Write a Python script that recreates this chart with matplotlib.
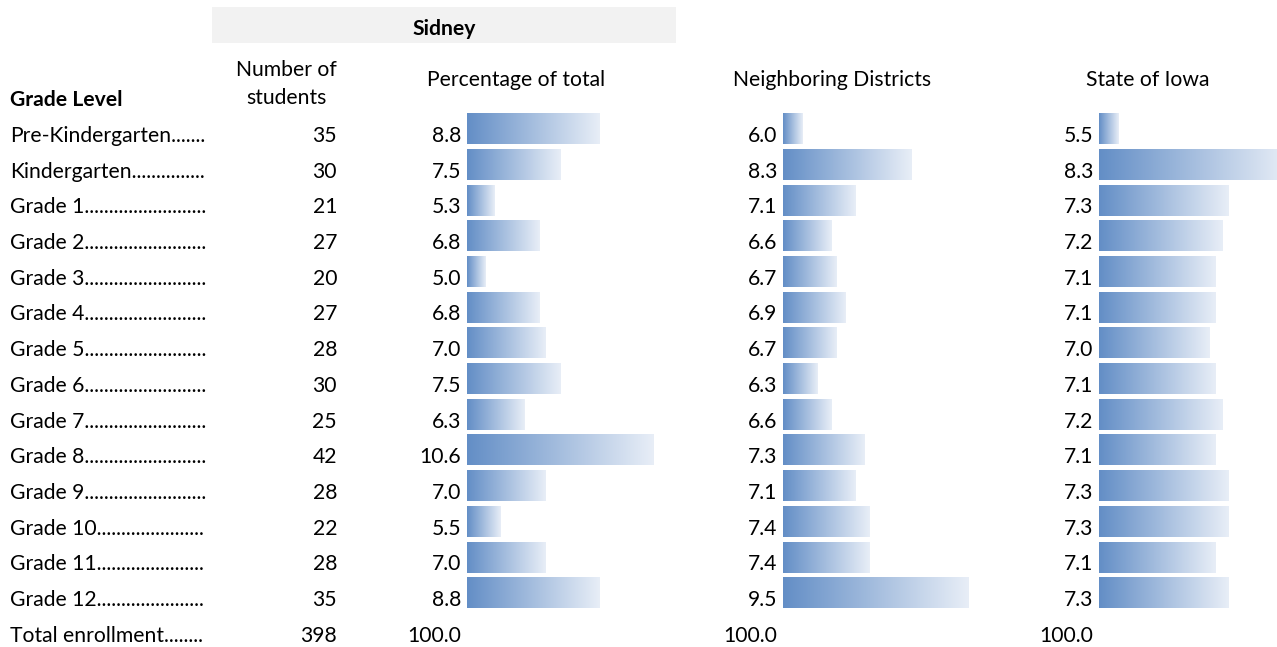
import numpy as np
import matplotlib
matplotlib.use("Agg")
import matplotlib.pyplot as plt

grades = ["Pre-Kindergarten", "Kindergarten", "Grade 1", "Grade 2", "Grade 3", "Grade 4",
          "Grade 5", "Grade 6", "Grade 7", "Grade 8", "Grade 9", "Grade 10", "Grade 11", "Grade 12"]
students = [35, 30, 21, 27, 20, 27, 28, 30, 25, 42, 28, 22, 28, 35]
sidney_pct = [8.8, 7.5, 5.3, 6.8, 5.0, 6.8, 7.0, 7.5, 6.3, 10.6, 7.0, 5.5, 7.0, 8.8]
neighbor_pct = [6.0, 8.3, 7.1, 6.6, 6.7, 6.9, 6.7, 6.3, 6.6, 7.3, 7.1, 7.4, 7.4, 9.5]
iowa_pct = [5.5, 8.3, 7.3, 7.2, 7.1, 7.1, 7.0, 7.1, 7.2, 7.1, 7.3, 7.3, 7.1, 7.3]
total_label = "Total enrollment"
total_students = 398
total_pct = ["100.0", "100.0", "100.0"]
header_city = "Sidney"
col_headers = ["Number of\nstudents", "Percentage of total", "Neighboring Districts", "State of Iowa"]

W, H = 1277, 647
FONT = "Lato"
FS = 15.2
plt.rcParams['font.family'] = [FONT, 'DejaVu Sans']

fig = plt.figure(figsize=(W / 100, H / 100), dpi=100)

# text layer in pixel coordinates
tax = fig.add_axes([0, 0, 1, 1])
tax.set_xlim(0, W)
tax.set_ylim(H, 0)
tax.axis('off')

# row geometry
row0, pitch = 129.0, 35.7
def row_px(i):
    return row0 + pitch * i

# header
tax.add_patch(plt.Rectangle((212, 7), 464, 36, color="#F2F2F2", lw=0, zorder=0))
tax.text(444, 29, header_city, ha='center', va='center', fontsize=FS, fontweight='bold')
tax.text(286, 84, col_headers[0], ha='center', va='center', fontsize=FS, linespacing=1.55)
tax.text(516, 80, col_headers[1], ha='center', va='center', fontsize=FS)
tax.text(832, 80, col_headers[2], ha='center', va='center', fontsize=FS)
tax.text(1148, 80, col_headers[3], ha='center', va='center', fontsize=FS)
tax.text(10, 100, "Grade Level", ha='left', va='center', fontsize=FS, fontweight='bold')

fig.canvas.draw()
renderer = fig.canvas.get_renderer()

def dotted(label, target_px):
    s = label
    while True:
        t = tax.text(10, 0, s + ".", fontsize=FS)
        w = t.get_window_extent(renderer).width
        t.remove()
        if 10 + w > target_px:
            return s
        s += "."

toff = 7
for i, g in enumerate(grades):
    y = row_px(i) + toff
    tax.text(10, y, dotted(g, 207), ha='left', va='center', fontsize=FS)
    tax.text(337, y, f"{students[i]}", ha='right', va='center', fontsize=FS)
    tax.text(461, y, f"{sidney_pct[i]:.1f}", ha='right', va='center', fontsize=FS)
    tax.text(777, y, f"{neighbor_pct[i]:.1f}", ha='right', va='center', fontsize=FS)
    tax.text(1093, y, f"{iowa_pct[i]:.1f}", ha='right', va='center', fontsize=FS)
yt = row_px(len(grades)) + toff
tax.text(10, yt, dotted(total_label, 207), ha='left', va='center', fontsize=FS)
tax.text(337, yt, f"{total_students}", ha='right', va='center', fontsize=FS)
for xr, s in zip([461, 777, 1093], total_pct):
    tax.text(xr, yt, s, ha='right', va='center', fontsize=FS)

# bar columns: (values, left px, right px, v0, px per unit)
cols = [
    (sidney_pct, 467, 700, 4.37, 30.0),
    (neighbor_pct, 783, 1010, 5.58, 47.4),
    (iowa_pct, 1099, 1277, 5.17, 60.6),
]
c0 = np.array([99, 142, 198]) / 255
c1 = np.array([232, 238, 247]) / 255
grad = np.linspace(0, 1, 256)[None, :, None]
grad_img = c0 * (1 - grad) + c1 * grad

ylo = -row0 / pitch
yhi = (H - row0) / pitch
for vals, lpx, rpx, v0, k in cols:
    ax = fig.add_axes([lpx / W, 0, (rpx - lpx) / W, 1])
    ax.set_xlim(v0, v0 + (rpx - lpx) / k)
    ax.set_ylim(yhi, ylo)
    ax.axis('off')
    ax.patch.set_alpha(0)
    bars = ax.barh(np.arange(len(vals)), vals, left=0, height=0.85, color='none', lw=0)
    for b in bars:
        x0 = v0
        x1 = b.get_width()
        yb = b.get_y()
        hb = b.get_height()
        ax.imshow(grad_img, extent=[x0, x1, yb + hb, yb], aspect='auto',
                  interpolation='bilinear', zorder=1)
    ax.set_xlim(v0, v0 + (rpx - lpx) / k)
    ax.set_ylim(yhi, ylo)

fig.savefig("out.png", dpi=100)
